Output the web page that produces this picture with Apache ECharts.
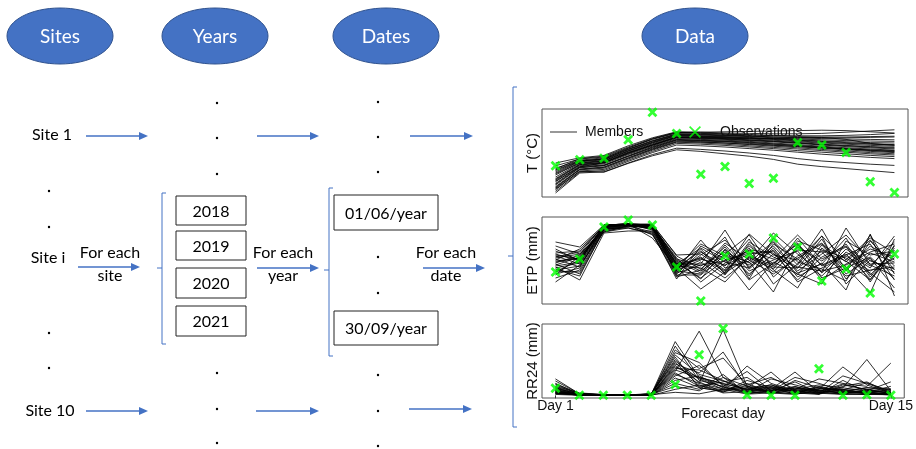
<!DOCTYPE html>
<html><head><meta charset="utf-8">
<script src="https://cdn.jsdelivr.net/npm/echarts@6/dist/echarts.min.js"></script>
<style>html,body{margin:0;padding:0;background:#fff}#c{width:916px;height:449px}</style>
</head><body><div id="c"></div>
<script>
// ---------- data ----------
const days = [1,2,3,4,5,6,7,8,9,10,11,12,13,14,15];
const dayTicks = [1, 15];

const tempObs = [17.8,19.3,19.7,24.3,31.2,25.9,15.7,17.6,13.4,14.7,23.6,23.0,21.1,13.8,11.1];
const tempMembers = [
  [18.5,19.8,20.4,22.8,24.8,26.3,26.2,26.0,25.9,25.8,25.8,25.9,26.2,26.5,26.8],
  [17.8,19.5,20.0,22.3,24.4,26.0,25.9,25.7,25.5,25.3,25.1,25.0,25.0,25.1,25.2],
  [17.2,19.2,19.8,22.0,24.1,25.8,25.7,25.5,25.3,25.0,24.8,24.6,24.5,24.4,24.3],
  [16.6,19.0,19.5,21.8,23.9,25.6,25.5,25.3,25.1,24.8,24.5,24.3,24.1,24.0,23.9],
  [16.0,18.8,19.3,21.6,23.7,25.5,25.3,25.1,24.9,24.6,24.3,24.0,23.8,23.6,23.5],
  [15.5,18.6,19.1,21.4,23.5,25.3,25.1,24.9,24.7,24.4,24.0,23.7,23.4,23.2,23.0],
  [15.0,18.4,18.9,21.2,23.3,25.1,25.0,24.8,24.5,24.2,23.8,23.5,23.2,22.9,22.7],
  [14.6,18.2,18.7,21.0,23.1,25.0,24.8,24.6,24.3,24.0,23.6,23.2,22.9,22.6,22.4],
  [14.2,18.0,18.5,20.8,22.9,24.8,24.6,24.4,24.1,23.8,23.4,23.0,22.6,22.3,22.0],
  [13.8,17.8,18.3,20.6,22.7,24.6,24.4,24.2,23.9,23.5,23.1,22.7,22.3,22.0,21.7],
  [13.4,17.6,18.0,20.3,22.5,24.4,24.2,24.0,23.7,23.3,22.9,22.5,22.1,21.7,21.4],
  [13.0,17.3,17.8,20.1,22.2,24.2,24.0,23.8,23.4,23.0,22.6,22.2,21.8,21.4,21.1],
  [12.6,17.0,17.5,19.8,22.0,24.0,23.8,23.5,23.1,22.7,22.3,21.9,21.5,21.1,20.8],
  [12.2,16.8,17.2,19.5,21.7,23.7,23.5,23.2,22.8,22.4,22.0,21.6,21.2,20.8,20.5],
  [11.8,16.5,16.9,19.2,21.4,23.4,23.2,22.9,22.5,22.1,21.6,21.2,20.8,20.4,20.1],
  [11.4,16.2,16.6,18.9,21.1,23.0,22.8,22.5,22.1,21.7,21.2,20.7,20.3,19.9,19.6],
  [11.0,16.0,16.3,18.5,20.6,22.2,21.9,21.5,21.0,20.4,19.6,19.0,18.6,18.2,17.9],
  [12.0,16.4,16.2,18.4,20.3,21.8,21.4,20.8,20.2,19.4,18.2,17.6,17.1,16.6,16.1],
  [16.3,18.9,19.6,22.2,24.5,26.1,26.2,26.3,26.4,26.5,26.6,26.7,26.6,26.3,26.0],
  [14.0,17.5,18.6,21.1,23.0,24.9,24.9,24.7,24.6,24.6,24.7,24.9,24.4,23.4,22.9],
  [17.0,19.6,20.2,22.5,24.6,26.2,26.0,25.8,25.6,25.4,25.3,25.3,25.4,25.6,25.9],
  [15.8,18.5,19.0,21.5,23.6,25.4,25.2,25.0,24.8,24.5,24.2,23.9,23.6,23.3,23.1],
  [14.4,18.1,18.6,20.9,23.0,24.9,24.7,24.5,24.2,23.9,23.5,23.1,22.8,22.5,22.2],
  [13.2,17.4,17.9,20.2,22.4,24.3,24.1,23.9,23.6,23.2,22.8,22.4,22.0,21.6,21.3],
  [12.4,16.9,17.4,19.7,21.9,23.8,23.7,23.5,23.2,22.9,22.6,22.3,22.0,21.8,21.6],
  [16.8,19.1,19.4,21.9,24.0,25.7,25.6,25.4,25.2,25.0,24.9,24.8,24.8,24.9,25.0]
];

const etpObs = [3.2,4.5,7.7,8.4,7.9,3.7,0.3,4.8,5.0,6.6,5.7,2.3,3.5,1.1,5.0];
const etpMembers = [
  [4.2,4.6,7.9,8.0,7.8,4.5,3.8,5.2,4.1,6.3,3.9,6.8,4.4,6.6,5.1],
  [3.6,4.1,7.7,8.0,7.9,3.9,4.6,3.3,5.8,4.0,6.1,3.1,5.5,3.8,6.2],
  [5.1,5.3,7.8,8.0,7.7,3.2,4.9,6.4,3.7,5.4,2.9,5.9,3.4,6.9,3.0],
  [4.8,4.0,7.6,7.9,7.5,4.1,2.6,4.4,5.1,3.2,5.7,4.3,6.0,2.7,5.6],
  [2.6,3.4,7.5,7.9,7.8,3.5,5.5,3.0,6.2,4.7,3.6,6.5,2.5,5.1,4.2],
  [5.8,5.0,7.9,8.0,8.0,4.8,3.5,5.7,2.8,6.0,4.5,2.8,5.2,3.6,6.8],
  [3.9,4.7,7.4,7.8,7.2,2.8,4.2,2.6,4.6,3.5,6.6,3.8,4.9,6.0,2.4],
  [4.5,3.7,7.8,8.0,7.6,3.7,6.0,4.8,3.9,5.8,3.3,5.0,6.9,4.3,3.5],
  [3.2,4.4,7.6,7.9,7.9,4.3,3.1,5.9,3.3,4.4,5.3,2.4,4.0,5.5,4.7],
  [6.2,5.7,7.9,8.0,7.4,3.0,5.2,3.8,6.5,2.7,4.8,6.1,3.0,4.6,1.6],
  [4.0,3.0,7.3,7.7,7.8,4.6,2.2,4.1,5.4,5.1,2.4,4.7,5.8,2.2,5.9],
  [2.9,4.8,7.7,8.0,6.9,3.4,4.4,6.7,2.5,6.6,4.2,3.5,2.3,6.3,3.8],
  [4.4,5.5,7.8,7.9,7.6,3.8,3.6,2.2,4.8,3.9,6.3,5.4,4.6,3.1,1.2],
  [3.4,3.8,7.5,7.6,7.1,2.5,5.8,4.5,1.4,4.2,3.0,2.0,6.3,4.9,5.3],
  [5.5,4.3,7.9,8.0,7.7,4.4,3.3,5.0,6.9,3.4,1.6,5.6,3.7,1.1,6.5],
  [3.7,2.4,7.1,7.3,7.3,3.3,6.4,3.6,4.3,7.1,5.0,3.2,7.6,3.9,2.8],
  [4.9,4.5,7.8,8.0,6.6,3.6,1.5,3.2,5.6,2.0,4.0,7.5,3.3,5.8,4.4],
  [3.0,3.6,7.7,7.9,7.8,4.0,4.0,7.4,3.5,5.6,2.7,4.1,1.4,7.0,0.8],
  [4.6,5.0,7.2,7.8,7.7,2.9,2.9,4.9,4.2,1.2,5.9,3.9,5.0,2.5,4.9],
  [3.8,4.2,7.9,8.0,7.9,4.9,5.0,3.4,7.0,4.9,4.4,6.8,2.0,4.4,3.2],
  [4.1,4.9,7.6,8.0,7.5,3.1,3.9,4.3,5.3,4.5,6.9,4.5,5.7,4.0,4.1],
  [5.3,4.4,7.8,7.9,7.9,4.2,2.5,5.5,3.0,5.0,3.7,3.3,3.9,5.2,6.0],
  [3.3,3.2,7.4,7.8,7.6,3.5,4.7,2.9,6.0,3.8,5.4,5.2,2.8,3.4,3.7],
  [4.7,5.2,7.9,8.0,7.8,4.0,5.6,4.2,3.6,6.2,3.1,4.0,6.6,2.9,5.4],
  [2.2,3.9,7.2,7.6,7.0,2.7,3.4,6.1,4.4,3.0,4.6,6.0,4.2,6.4,3.4],
  [4.3,4.6,7.7,8.0,7.9,3.8,4.5,3.9,5.0,5.3,2.2,3.6,4.8,3.3,4.6],
  [3.5,2.8,7.5,7.8,7.7,3.3,3.0,5.4,2.4,4.1,6.0,2.6,3.6,4.7,2.5],
  [5.0,4.3,7.8,8.0,7.6,3.6,5.3,3.1,4.7,3.7,3.6,5.3,4.3,2.4,5.8]
];

const rainObs = [2.4,0,0,0,0,3.6,13.6,22.4,0.2,0,0,8.9,0,0.2,0];
const rainMembers = [
  [5.5,0.5,0.2,0.1,0.3,18.0,6.0,4.0,2.0,1.5,3.0,1.0,0.5,2.0,0.5],
  [4.8,0.6,0.1,0.0,0.5,15.2,9.0,12.5,3.5,6.0,2.0,2.5,1.0,1.5,0.8],
  [4.0,0.4,0.2,0.1,0.2,8.0,21.5,6.0,1.0,2.5,1.5,0.8,6.5,4.0,1.0],
  [3.5,0.3,0.1,0.0,0.4,12.0,4.0,22.0,3.0,1.0,0.5,1.5,0.7,1.0,0.3],
  [3.0,0.8,0.3,0.1,0.1,14.3,11.0,3.0,8.0,1.5,2.5,0.5,3.5,2.0,1.2],
  [2.6,0.2,0.0,0.0,0.0,10.5,7.5,14.5,2.5,7.8,1.0,3.0,1.5,0.5,2.0],
  [2.2,0.5,0.2,0.1,0.6,11.5,5.5,2.0,9.8,4.0,1.5,2.0,9.5,3.5,0.6],
  [1.8,0.3,0.1,0.0,0.2,9.0,8.5,5.0,1.5,2.0,7.8,1.0,2.5,12.0,1.5],
  [1.5,0.1,0.1,0.0,0.3,7.5,3.0,4.5,6.0,1.0,2.0,5.5,4.0,3.0,10.8],
  [1.2,0.4,0.0,0.0,0.1,6.5,10.0,3.5,1.0,5.5,3.5,1.5,1.0,0.8,0.2],
  [1.0,0.2,0.2,0.1,0.4,12.8,2.5,1.5,4.0,0.8,5.0,2.5,2.0,1.0,3.0],
  [0.8,0.1,0.0,0.0,0.0,5.0,6.5,2.5,2.0,3.5,1.0,0.5,3.0,4.5,0.5],
  [0.5,0.3,0.1,0.0,0.2,4.0,2.0,7.0,0.5,1.5,6.0,4.0,1.5,2.5,1.8],
  [0.3,0.0,0.0,0.0,0.1,10.0,4.5,1.0,5.0,2.5,0.5,1.0,0.4,0.3,0.2],
  [2.0,0.2,0.1,0.0,0.3,3.0,1.5,6.0,3.0,0.5,2.0,3.5,2.5,1.5,4.5],
  [0.6,0.1,0.0,0.0,0.0,2.0,3.5,0.8,1.2,3.0,0.8,0.3,5.0,1.0,0.4],
  [1.4,0.2,0.0,0.0,0.0,16.5,5.0,3.0,0.8,1.2,4.5,0.7,0.3,0.6,0.1],
  [0.9,0.0,0.0,0.0,0.2,1.0,0.5,2.0,0.4,0.8,0.3,1.8,0.6,0.2,0.9],
  [2.8,0.4,0.1,0.0,0.3,9.5,6.0,3.8,2.2,3.5,1.2,2.2,1.8,4.2,1.4],
  [1.6,0.3,0.0,0.0,0.2,7.0,4.0,2.2,1.5,0.6,2.8,1.2,3.8,1.8,0.7],
  [3.8,0.6,0.2,0.1,0.4,11.0,3.2,1.8,3.2,2.2,0.6,2.8,1.2,2.6,2.2],
  [0.7,0.1,0.0,0.0,0.1,8.5,5.8,2.8,0.6,1.8,1.6,0.4,2.0,0.5,0.3],
  [2.4,0.3,0.1,0.0,0.2,13.5,7.0,4.8,1.8,2.8,2.2,1.6,0.9,1.4,1.0],
  [1.1,0.2,0.0,0.0,0.0,5.8,2.6,1.2,2.6,1.0,0.7,2.2,1.4,0.9,0.6]
];

const panelNames = ['T (°C)', 'ETP (mm)', 'RR24 (mm)'];
const stageLabels = ['Sites', 'Years', 'Dates', 'Data'];
const siteLabels = ['Site 1', 'Site i', 'Site 10'];
const yearLabels = ['2018', '2019', '2020', '2021'];
const dateLabels = ['01/06/year', '30/09/year'];
const loopLabels = [['For each', 'site'], ['For each', 'year'], ['For each', 'date']];
const legendLabels = ['Members', 'Observations'];
const xAxisTitle = 'Forecast day';

// ---------- chart ----------
const chart = echarts.init(document.getElementById('c'), null, {renderer: 'canvas'});
const BLUE = '#4472C4';
const DFONT = 'Lato, "Open Sans", sans-serif';
const CFONT = '"Liberation Sans", Arial, sans-serif';
const X_THICK = 'path://M2,0L5,3L8,0L10,2L7,5L10,8L8,10L5,7L2,10L0,8L3,5L0,2Z';
const X_THIN = 'path://M1,0L5,4L9,0L10,1L6,5L10,9L9,10L5,6L1,10L0,9L4,5L0,1Z';
const LINE_ICON = 'path://M0,0L0.01,0L0.01,0.01L0,0.01ZM0,6.6L27,6.6L27,7.5L0,7.5ZM26.99,13.99L27,13.99L27,14L26.99,14Z';

const g = [];
// stage ellipses
const ellX = [60, 215, 386, 695];
stageLabels.forEach((s, i) => {
  g.push({type: 'ellipse', shape: {cx: ellX[i], cy: 36, rx: 53, ry: 28},
    style: {fill: BLUE, stroke: '#2F528F', lineWidth: 1}});
  g.push({type: 'text', x: ellX[i], y: 37, style: {text: s, fill: '#fff', font: '19px ' + DFONT,
    align: 'center', verticalAlign: 'middle'}});
});
// site labels
const siteY = [135, 258, 411], siteX = [52, 48, 50];
siteLabels.forEach((s, i) => g.push({type: 'text', x: siteX[i], y: siteY[i],
  style: {text: s, fill: '#000', font: '16px ' + DFONT, align: 'center', verticalAlign: 'middle'}}));
// arrows
function arrow(x1, x2, y) {
  g.push({type: 'line', shape: {x1: x1, y1: y, x2: x2 - 7, y2: y}, style: {stroke: BLUE, lineWidth: 1.3}});
  g.push({type: 'polygon', shape: {points: [[x2 - 9, y - 4], [x2, y], [x2 - 9, y + 4]]}, style: {fill: BLUE}});
}
[[86,148,136],[257,319,136],[410,473,136],
 [78,140,267],[257,319,268],[423,485,268],
 [86,148,411],[256,319,411],[409,472,409]].forEach(a => arrow(a[0], a[1], a[2]));
// loop labels
const loopX = [110, 283, 446];
loopLabels.forEach((l, i) => {
  g.push({type: 'text', x: loopX[i], y: 253, style: {text: l[0], fill: '#000', font: '16px ' + DFONT, align: 'center', verticalAlign: 'middle'}});
  g.push({type: 'text', x: loopX[i], y: 276, style: {text: l[1], fill: '#000', font: '16px ' + DFONT, align: 'center', verticalAlign: 'middle'}});
});
// dots
function dot(x, y) { g.push({type: 'circle', shape: {cx: x, cy: y, r: 1.2}, style: {fill: '#000'}}); }
[191, 227, 333, 368].forEach(y => dot(49, y));
[103, 138, 174, 373, 409, 443].forEach(y => dot(217, y));
[102, 137, 172, 257, 293, 375, 411, 446].forEach(y => dot(378, y));
// brackets
function bracket(x, y1, y2, ym) {
  g.push({type: 'polyline', shape: {points: [[x + 4, y1], [x, y1], [x, y2], [x + 4, y2]]}, style: {stroke: BLUE, lineWidth: 1, fill: null}});
  g.push({type: 'line', shape: {x1: x - 5, y1: ym, x2: x, y2: ym}, style: {stroke: BLUE, lineWidth: 1}});
}
bracket(162, 193, 344, 268);
bracket(329, 188, 356, 270);
bracket(513, 87, 427, 256);
// year boxes
const yearBoxY = [[196,225],[231,260],[268,298],[306,336]];
yearLabels.forEach((t, i) => {
  const b = yearBoxY[i];
  g.push({type: 'rect', shape: {x: 176, y: b[0], width: 70, height: b[1] - b[0]}, style: {fill: '#fff', stroke: '#222', lineWidth: 1}});
  g.push({type: 'text', x: 211, y: (b[0] + b[1]) / 2 + 1, style: {text: t, fill: '#000', font: '16px ' + DFONT, align: 'center', verticalAlign: 'middle'}});
});
// date boxes
const dateBoxY = [[195,230],[311,345]];
dateLabels.forEach((t, i) => {
  const b = dateBoxY[i];
  g.push({type: 'rect', shape: {x: 334, y: b[0], width: 104, height: b[1] - b[0]}, style: {fill: '#fff', stroke: '#222', lineWidth: 1}});
  g.push({type: 'text', x: 386, y: (b[0] + b[1]) / 2 + 1, style: {text: t, fill: '#000', font: '16px ' + DFONT, align: 'center', verticalAlign: 'middle'}});
});

// panels
const panels = [
  {top: 109, h: 88, min: 10, max: 32, obs: tempObs, mem: tempMembers},
  {top: 217, h: 87, min: 0, max: 8.7, obs: etpObs, mem: etpMembers},
  {top: 324, h: 74, min: -0.9, max: 23.9, obs: rainObs, mem: rainMembers}
];
const grids = [], xAxes = [], yAxes = [], series = [];
panels.forEach((p, k) => {
  grids.push({left: 542, top: p.top, width: 366, height: p.h, show: true, borderColor: '#555', borderWidth: 1, backgroundColor: 'transparent', containLabel: false});
  const last = k === panels.length - 1;
  xAxes.push({type: 'value', gridIndex: k, min: 0.44, max: 15.56, show: true,
    axisLine: {show: false}, splitLine: {show: false},
    axisTick: {show: last, length: 3, customValues: dayTicks, lineStyle: {color: '#333'}},
    axisLabel: {show: last, customValues: dayTicks, formatter: v => 'Day ' + v, margin: 1,
      fontFamily: CFONT, fontSize: 14, color: '#111'},
    name: last ? xAxisTitle : '', nameLocation: 'middle', nameGap: 8, nameMoveOverlap: false,
    nameTextStyle: {fontFamily: CFONT, fontSize: 14.5, color: '#111'}});
  yAxes.push({type: 'value', gridIndex: k, min: p.min, max: p.max, show: true,
    axisLine: {show: false}, axisTick: {show: false}, axisLabel: {show: false}, splitLine: {show: false},
    name: panelNames[k], nameLocation: 'middle', nameGap: 2, nameMoveOverlap: false,
    nameTextStyle: {fontFamily: CFONT, fontSize: 15, color: '#111'}});
  p.mem.forEach(m => series.push({type: 'line', name: legendLabels[0], xAxisIndex: k, yAxisIndex: k,
    data: days.map((d, j) => [d, m[j]]), symbol: 'none', silent: true,
    itemStyle: {color: '#000'},
    lineStyle: {color: '#000', width: 0.9, opacity: 0.9}, z: 2}));
  series.push({type: 'scatter', name: legendLabels[1], xAxisIndex: k, yAxisIndex: k,
    data: days.map((d, j) => [d, p.obs[j]]), symbol: X_THICK, symbolSize: 10, clip: false, silent: true,
    itemStyle: {color: '#00FF00'}, z: 5});
});

chart.setOption({
  animation: false,
  backgroundColor: '#fff',
  grid: grids, xAxis: xAxes, yAxis: yAxes, series: series,
  legend: [
    {data: [{name: legendLabels[0], icon: LINE_ICON, itemStyle: {color: '#333'}}], left: 545, top: 120,
      itemWidth: 27, itemHeight: 14, selectedMode: false,
      textStyle: {fontFamily: CFONT, fontSize: 14, color: '#111', padding: [0, 0, 0, 3]}},
    {data: [{name: legendLabels[1], icon: X_THIN, itemStyle: {color: '#00FF00'}}], left: 684, top: 120,
      itemWidth: 12, itemHeight: 13, selectedMode: false,
      textStyle: {fontFamily: CFONT, fontSize: 14, color: '#111', padding: [0, 0, 0, 14]}}
  ],
  graphic: g
});
</script></body></html>
